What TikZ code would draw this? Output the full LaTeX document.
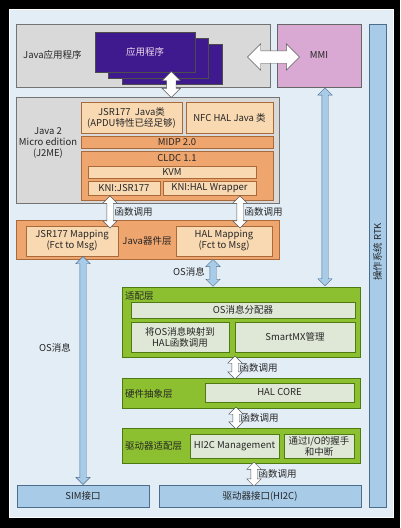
\documentclass[tikz,border=0pt]{standalone}
\usepackage{fontspec}
\setmainfont{Noto Sans CJK SC}
\usetikzlibrary{calc, shapes.arrows}
\definecolor{bgblue}{HTML}{E3EDF6}
\definecolor{boxgray}{HTML}{D9D9D9}
\definecolor{lorange}{HTML}{F9D9B2}
\definecolor{morange}{HTML}{EFA56E}
\definecolor{edgeor}{HTML}{A86A3A}
\definecolor{grn}{HTML}{8DC030}
\definecolor{edgegrn}{HTML}{4E7A12}
\definecolor{lgrn}{HTML}{DFE8D6}
\definecolor{sblue}{HTML}{A8CBE8}
\definecolor{edgeblue}{HTML}{4C6D8C}
\definecolor{appviolet}{HTML}{3F1A8E}
\definecolor{mmipink}{HTML}{D9A9D3}

\begin{document}
\begin{tikzpicture}[x=1pt,y=-1pt,inner sep=1pt,font=\fontsize{9.5}{11}\selectfont,text=black!85,
  graybox/.style={draw=black!55,fill=boxgray,minimum width=#1},
  orbox/.style={draw=edgeor,fill=lorange,minimum width=#1},
  dorbox/.style={draw=edgeor,fill=morange,minimum width=#1},
  grnbox/.style={draw=edgegrn,fill=grn,line width=.8pt,minimum width=#1},
  lgbox/.style={draw=edgegrn,fill=lgrn,line width=.8pt,minimum width=#1},
  bluebox/.style={draw=edgeblue,fill=sblue,minimum width=#1},
  appbox/.style={draw=black!70,fill=appviolet,minimum width=100pt,minimum height=40pt},
  wharrow/.style={double arrow,draw=black!65,fill=white,minimum width=0pt,inner sep=3pt,
    double arrow head extend=4pt,minimum height=#1},
  blarrow/.style={double arrow,draw=edgeblue,fill=sblue,minimum width=0pt,inner sep=3pt,
    double arrow head extend=4pt,minimum height=#1}]
\useasboundingbox (0,0) rectangle (400,528);
\fill[black] (0,0) rectangle (400,528);
\draw[white,fill=bgblue] (9,9) rectangle (393,517);

% top row
\node[graybox=254pt,minimum height=63pt] (japp) at (143,55.5) {};
\node[anchor=west] (jappl) at (22,55) {Java应用程序};
\node[appbox] (app3) at (172,64) {};
\node[appbox] (app2) at (158,58) {};
\node[appbox,text=white!85!violet] (app1) at (145,52) {应用程序};
\node[draw=black!60,fill=mmipink,minimum width=84pt,minimum height=63pt] (mmi) at (319,55.5) {MMI};
\node[bluebox=17pt,minimum height=483pt] (rtk) at (377.5,265.5) {};
\node[rotate=90] (rtkl) at (377.5,252) {操作系统 RTK};

% J2ME
\node[graybox=263pt,minimum height=106pt] (j2me) at (147.5,150) {};
\node[align=center] (j2mel) at (48,143) {Java 2\\Micro edition\\(J2ME)};
\node[orbox=101pt,minimum height=31pt,align=center] (jsrj) at (131.5,117.5) {JSR177\ \ Java类\\(APDU特性已经足够)};
\node[orbox=87pt,minimum height=31pt] (nfcj) at (229.5,117.5) {NFC HAL Java 类};
\node[dorbox=192pt,minimum height=12pt] (midp) at (177,142) {MIDP 2.0};
\node[dorbox=192pt,minimum height=49pt] (cldc) at (177,175.5) {};
\node (cldcl) at (177,158) {CLDC 1.1};
\node[orbox=168pt,minimum height=12pt] (kvm) at (172,172) {KVM};
\node[orbox=72pt,minimum height=14pt] (knij) at (124,188) {KNI:JSR177};
\node[orbox=93pt,minimum height=14pt] (knih) at (209.5,188) {KNI:HAL Wrapper};

% Java device layer
\node[dorbox=263pt,minimum height=39pt] (dev) at (147.5,239.5) {};
\node[orbox=92pt,minimum height=30pt,align=center] (jmap) at (72,241) {JSR177 Mapping\\(Fct to Msg)};
\node (devl) at (147,241) {Java器件层};
\node[orbox=96pt,minimum height=30pt,align=center] (hmap) at (224,241) {HAL Mapping\\(Fct to Msg)};

% adapter layers
\node[grnbox=238pt,minimum height=70pt] (adp) at (241,322) {};
\node[anchor=west] (adpl) at (124,296) {适配层};
\node[lgbox=224pt,minimum height=16pt] (osd) at (243,310) {OS消息分配器};
\node[lgbox=98pt,minimum height=30pt,align=center] (osm) at (180,337) {将OS消息映射到\\HAL函数调用};
\node[lgbox=120pt,minimum height=30pt] (smx) at (295,337) {SmartMX管理};
\node[grnbox=238pt,minimum height=30pt] (hal) at (241,393) {};
\node[anchor=west] (hall) at (124,394) {硬件抽象层};
\node[lgbox=149pt,minimum height=19pt] (halc) at (279.5,392.5) {HAL CORE};
\node[grnbox=238pt,minimum height=35pt] (drv) at (241,445.5) {};
\node[anchor=west] (drvl) at (124,446) {驱动器适配层};
\node[lgbox=89pt,minimum height=24pt] (hi2c) at (234.5,446) {HI2C Management};
\node[lgbox=70pt,minimum height=24pt,align=center] (io) at (319,446) {通过I/O的握手\\和中断};

% bottom interfaces
\node[bluebox=132pt,minimum height=22pt] (sim) at (83,496) {SIM接口};
\node[bluebox=202pt,minimum height=22pt] (drvif) at (260,496) {驱动器接口(HI2C)};

% block arrows
\node[wharrow=52pt,inner sep=6pt,double arrow head extend=7pt] (a0) at ($(japp.east)!.5!(mmi.west)+(0,1.5)$) {};
\node[wharrow=26pt,inner sep=4.5pt,double arrow head extend=4.5pt,rotate=90] (a1) at ($(app1.south)!.5!(j2me.north)+(25,0)$) {};
\node[wharrow=32pt,rotate=90] (f1) at (110,212) {};
\node[wharrow=32pt,rotate=90] (f2) at (240,212) {};
\node[blarrow=198pt,rotate=90] (b0) at ($(mmi.south)!.5!(mmi.south |- adp.north)+(6,0)$) {};
\node[blarrow=27pt,rotate=90] (b1) at ($(hmap.south |- dev.south)!.5!(hmap.south |- adp.north)+(-11,0)$) {};
\node[blarrow=228pt,rotate=90] (b2) at ($(sim.north |- jmap.south)!.5!(sim.north)$) {};
\node[wharrow=23pt,rotate=90] (f3) at ($(adp.south)!.5!(hal.north)+(-6,0)$) {};
\node[wharrow=22pt,rotate=90] (f4) at ($(hal.south)!.5!(drv.north)+(-5,0)$) {};
\node[wharrow=24pt,rotate=90] (f5) at ($(drv.south -| drvif.north)!.5!(drvif.north)+(-6,0)$) {};

% labels
\node[anchor=west] (l1) at (f1.south) {函数调用};
\node[anchor=west] (l2) at (f2.south) {函数调用};
\node (l3) at (189,272) {OS消息};
\node (l4) at (55,348) {OS消息};
\node[anchor=west] (l5) at (f3.south) {函数调用};
\node[anchor=west] (l6) at (f4.south) {函数调用};
\node[anchor=west] (l7) at (f5.south) {函数调用};
\end{tikzpicture}
\end{document}
